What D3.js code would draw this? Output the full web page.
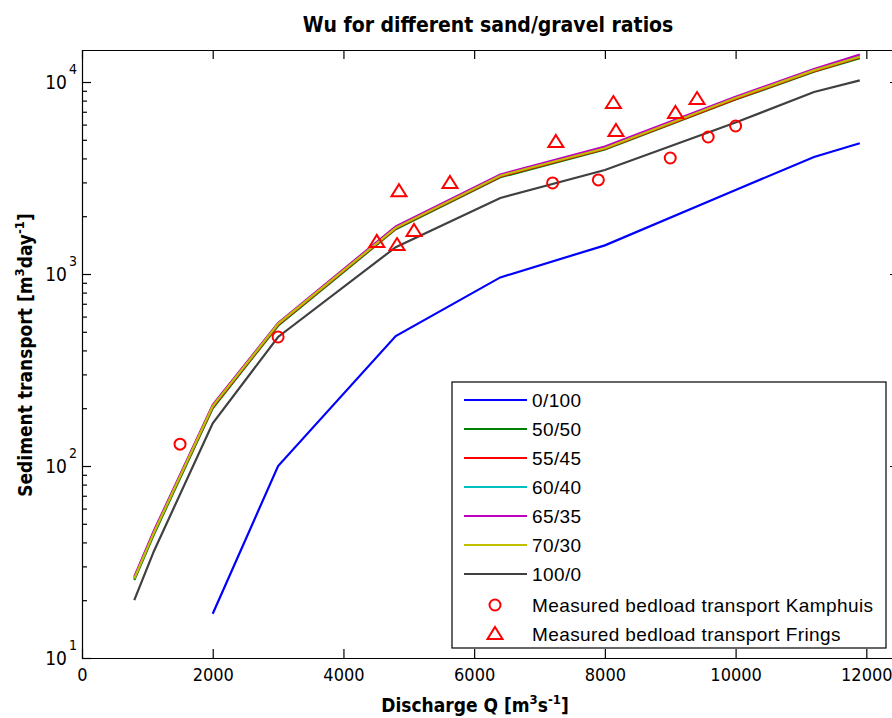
<!DOCTYPE html>
<html>
<head>
<meta charset="utf-8">
<script src="https://cdn.jsdelivr.net/npm/d3@7"></script>
<style>
  body { margin: 0; background: #fff; }
  svg { display: block; }
  .narrow { font-family: "Liberation Sans Narrow", "DejaVu Sans Condensed", "Arial Narrow", sans-serif; }
  .axis .tick text { font-family: "Liberation Sans Narrow", "DejaVu Sans Condensed", sans-serif; font-size: 18px; fill: #000; }
  .axis path, .axis line { stroke: #000; stroke-width: 1.2px; }
  .legend text { font-family: "Liberation Sans", Arial, sans-serif; font-size: 19px; letter-spacing: 0.4px; }
</style>
</head>
<body>
<div id="chart"></div>
<script>
/* Data */
var discharge = [800, 1100, 2000, 3000, 4800, 6400, 8000, 10000, 11200, 11900];

var s0_100  = [null, null, 17, 100, 475, 960, 1410, 2740, 4070, 4800];
var s50_50  = [25.5, 44, 200, 538, 1710, 3190, 4450, 8100, 11300, 13300];
var s55_45  = [26, 45, 203, 545, 1730, 3220, 4500, 8150, 11400, 13450];
var s60_40  = [26, 45.5, 206, 552, 1755, 3270, 4570, 8300, 11600, 13750];
var s65_35  = [26.5, 46, 208, 556, 1770, 3300, 4610, 8380, 11700, 13900];
var s70_30  = [26, 45, 205, 550, 1740, 3250, 4520, 8250, 11500, 13550];
var s100_0  = [20, 36, 167, 470, 1380, 2490, 3480, 6150, 8870, 10200];

var seriesNames  = ["0/100", "50/50", "55/45", "60/40", "65/35", "70/30", "100/0"];
var seriesValues = [s0_100, s50_50, s55_45, s60_40, s65_35, s70_30, s100_0];
var seriesColors = ["#0000ff", "#008000", "#ff0000", "#00bfbf", "#bf00bf", "#bfbf00", "#404040"];

var kamphuisQ = [1500, 3000, 7200, 7900, 9000, 9580, 10000];
var kamphuisT = [130, 470, 2980, 3090, 4020, 5170, 5900];

var fringsQ = [4510, 4820, 5080, 4850, 5630, 7250, 8130, 8170, 9080, 9410];
var fringsT = [1470, 1415, 1675, 2700, 2980, 4870, 7770, 5560, 6900, 8150];

var xTicks = [0, 2000, 4000, 6000, 8000, 10000, 12000];
var yMajor = [10, 100, 1000, 10000];

var width = 892;
var height = 718;
var mLeft = 82, mRight = 899, mTop = 50, mBottom = 658;

/* Scale */
var xScale = d3.scaleLinear().domain([0, 12500]).range([mLeft, mRight]);
var yScale = d3.scaleLog().domain([10, 14680]).range([mBottom, mTop]);

var svg = d3.select("#chart").append("svg")
  .attr("width", width)
  .attr("height", height);

var yMinor = [];
yMajor.forEach(function(m) {
  for (var k = 2; k <= 9; k++) {
    if (m * k <= 14680) yMinor.push(m * k);
  }
});

/* Axes (ticks pointing inward, box all round) */
svg.append("g").attr("class", "axis")
  .attr("transform", `translate(0, ${mBottom})`)
  .call(d3.axisBottom(xScale).tickValues(xTicks).tickSizeInner(-9).tickSizeOuter(0).tickPadding(10).tickFormat(d3.format("d")));

svg.append("g").attr("class", "axis")
  .attr("transform", `translate(0, ${mTop})`)
  .call(d3.axisTop(xScale).tickValues(xTicks).tickSizeInner(-9).tickSizeOuter(0).tickFormat(""));

var yLeft = svg.append("g").attr("class", "axis")
  .attr("transform", `translate(${mLeft}, 0)`)
  .call(d3.axisLeft(yScale).tickValues(yMajor).tickSizeInner(-9).tickSizeOuter(0).tickFormat(""));

svg.append("g").attr("class", "axis")
  .attr("transform", `translate(${mLeft}, 0)`)
  .call(d3.axisLeft(yScale).tickValues(yMinor).tickSizeInner(-5).tickSizeOuter(0).tickFormat(""))
  .select(".domain").remove();

svg.append("g").attr("class", "axis")
  .attr("transform", `translate(${mRight}, 0)`)
  .call(d3.axisRight(yScale).tickValues(yMajor).tickSizeInner(-9).tickSizeOuter(0).tickFormat(""));

svg.append("g").attr("class", "axis")
  .attr("transform", `translate(${mRight}, 0)`)
  .call(d3.axisRight(yScale).tickValues(yMinor).tickSizeInner(-5).tickSizeOuter(0).tickFormat(""))
  .select(".domain").remove();

// 10^n labels
yLeft.selectAll(".tick").each(function(d) {
  var g = d3.select(this);
  g.append("text")
    .attr("x", -15).attr("y", 0).attr("dy", "0.36em")
    .attr("text-anchor", "end")
    .style("font-size", "19px")
    .text("10");
  g.append("text")
    .attr("x", -13).attr("y", -9)
    .attr("text-anchor", "start")
    .style("font-size", "14px")
    .text(Math.round(Math.log10(d)));
});

/* Lines */
var line = d3.line()
  .defined(d => d.v != null)
  .x(d => xScale(d.q))
  .y(d => yScale(d.v));

var lines = svg.append("g").attr("class", "lines");

seriesValues.forEach(function(vals, i) {
  var pts = discharge.map((q, j) => ({q: q, v: vals[j]}));
  lines.append("path")
    .attr("d", line(pts))
    .attr("fill", "none")
    .attr("stroke", seriesColors[i])
    .attr("stroke-width", 2.2);
});

/* Measured points */
function triPath(cx, cy) {
  return `M${cx},${cy - 7}L${cx + 7.5},${cy + 5}L${cx - 7.5},${cy + 5}Z`;
}

svg.append("g").selectAll("circle")
  .data(kamphuisQ.map((q, j) => ({q: q, v: kamphuisT[j]}))).enter()
  .append("circle")
  .attr("cx", d => xScale(d.q))
  .attr("cy", d => yScale(d.v))
  .attr("r", 5.5)
  .attr("fill", "none")
  .attr("stroke", "#ff0000")
  .attr("stroke-width", 2);

svg.append("g").selectAll("path")
  .data(fringsQ.map((q, j) => ({q: q, v: fringsT[j]}))).enter()
  .append("path")
  .attr("d", d => triPath(xScale(d.q), yScale(d.v)))
  .attr("fill", "none")
  .attr("stroke", "#ff0000")
  .attr("stroke-width", 2);

/* Legend */
var legend = svg.append("g").attr("class", "legend");
legend.append("rect")
  .attr("x", 452).attr("y", 382).attr("width", 434).attr("height", 266)
  .attr("fill", "#fff").attr("stroke", "#000").attr("stroke-width", 1.2);

var rowY = 400, rowStep = 29;
seriesNames.forEach(function(name, i) {
  var y = rowY + i * rowStep;
  legend.append("line")
    .attr("x1", 464).attr("x2", 527).attr("y1", y).attr("y2", y)
    .attr("stroke", seriesColors[i]).attr("stroke-width", 2.2);
  legend.append("text")
    .attr("x", 532).attr("y", y).attr("dy", "0.36em")
    .text(name);
});
var yK = rowY + 7 * rowStep + 2;
legend.append("circle")
  .attr("cx", 495).attr("cy", yK).attr("r", 5.5)
  .attr("fill", "none").attr("stroke", "#ff0000").attr("stroke-width", 2);
legend.append("text").attr("x", 532).attr("y", yK).attr("dy", "0.36em")
  .text("Measured bedload transport Kamphuis");
var yF = yK + rowStep;
legend.append("path").attr("d", triPath(495, yF))
  .attr("fill", "none").attr("stroke", "#ff0000").attr("stroke-width", 2);
legend.append("text").attr("x", 532).attr("y", yF).attr("dy", "0.36em")
  .text("Measured bedload transport Frings");

/* Title and labels */
svg.append("text")
  .attr("class", "narrow")
  .attr("x", 488).attr("y", 32)
  .attr("text-anchor", "middle")
  .style("font-size", "21px").style("font-weight", "bold")
  .text("Wu for different sand/gravel ratios");

var xl = svg.append("text")
  .attr("class", "narrow")
  .attr("x", 475).attr("y", 712)
  .attr("text-anchor", "middle")
  .style("font-size", "19px").style("font-weight", "bold");
xl.append("tspan").text("Discharge Q [m");
xl.append("tspan").attr("dy", -8).style("font-size", "13px").text("3");
xl.append("tspan").attr("dy", 8).text("s");
xl.append("tspan").attr("dy", -8).style("font-size", "13px").text("-1");
xl.append("tspan").attr("dy", 8).text("]");

var yl = svg.append("text")
  .attr("class", "narrow")
  .attr("transform", "translate(32, 355) rotate(-90)")
  .attr("text-anchor", "middle")
  .style("font-size", "19px").style("font-weight", "bold");
yl.append("tspan").text("Sediment transport [m");
yl.append("tspan").attr("dy", -8).style("font-size", "13px").text("3");
yl.append("tspan").attr("dy", 8).text("day");
yl.append("tspan").attr("dy", -8).style("font-size", "13px").text("-1");
yl.append("tspan").attr("dy", 8).text("]");
</script>
</body>
</html>
